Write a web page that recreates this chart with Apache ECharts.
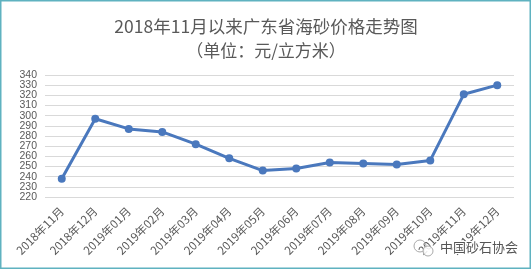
<!DOCTYPE html>
<html>
<head>
<meta charset="utf-8">
<script src="https://cdn.jsdelivr.net/npm/echarts@6/dist/echarts.min.js"></script>
<style>
html,body{margin:0;padding:0;background:#fff;}
#c{width:532px;height:270px;}
</style>
</head>
<body>
<div id="c"></div>
<script>
const categories = ['2018年11月','2018年12月','2019年01月','2019年02月','2019年03月','2019年04月','2019年05月','2019年06月','2019年07月','2019年08月','2019年09月','2019年10月','2019年11月','2019年12月'];
const prices = [238, 297, 287, 284, 272, 258, 246, 248, 254, 253, 252, 256, 321, 330];
const titleText = '2018年11月以来广东省海砂价格走势图';
const subText = '（单位：元/立方米）';
const watermark = '中国砂石协会';

const yLabel = {fontSize: 10.5, color: '#595959', margin: 8, fontFamily: 'Liberation Sans', showMinLabel: true, showMaxLabel: true};
function makeY(parity, split) {
  return {
    type: 'value',
    position: 'left',
    min: 220, max: 340, interval: 10,
    axisLine: {show: false},
    axisTick: {show: false},
    axisLabel: Object.assign({}, yLabel, {
      formatter: v => (Math.round(v / 10) % 2 === parity ? String(v) : '')
    }),
    splitLine: {show: split, lineStyle: {color: '#d9d9d9', width: 1}}
  };
}

const chart = echarts.init(document.getElementById('c'), null, {renderer:'canvas'});
chart.setOption({
  backgroundColor: '#fff',
  animation: false,
  title: {
    text: titleText,
    subtext: subText,
    left: 'center',
    top: 10,
    itemGap: 4,
    textStyle: {fontFamily: 'Noto Sans CJK SC', fontSize: 17.5, fontWeight: 'normal', color: '#595959', lineHeight: 22},
    subtextStyle: {fontFamily: 'Noto Sans CJK SC', fontSize: 17, color: '#595959', lineHeight: 20}
  },
  grid: {left: 45, right: 18, top: 75, bottom: 73, containLabel: false},
  xAxis: {
    type: 'category',
    data: categories,
    boundaryGap: true,
    axisLine: {show: false},
    axisTick: {show: false},
    axisLabel: {rotate: 45, fontSize: 11.5, color: '#595959', margin: 12, fontFamily: 'Noto Sans CJK SC', interval: 0}
  },
  yAxis: [makeY(0, true), makeY(1, false)],
  series: [{
    type: 'line',
    data: prices,
    yAxisIndex: 0,
    symbol: 'circle',
    symbolSize: 8,
    lineStyle: {color: '#4a78bd', width: 3},
    itemStyle: {color: '#4a78bd'}
  }],
  graphic: [
    {type: 'rect', shape: {x: 0.75, y: 0.75, width: 529.5, height: 267.5}, style: {fill: 'none', stroke: '#5fb2c0', lineWidth: 1.5}, z: 100},
    {type: 'circle', shape: {cx: 420, cy: 246, r: 6}, style: {fill: 'none', stroke: '#aaa', lineWidth: 1}, z: 100},
    {type: 'circle', shape: {cx: 428, cy: 251, r: 5}, style: {fill: 'rgba(255,255,255,0.85)', stroke: '#aaa', lineWidth: 1}, z: 100},
    {type: 'text', left: 439, top: 240, style: {text: watermark, fontSize: 13, fill: '#555', fontFamily: 'Noto Sans CJK SC', stroke: '#fff', lineWidth: 2}, z: 100}
  ]
});
</script>
</body>
</html>
